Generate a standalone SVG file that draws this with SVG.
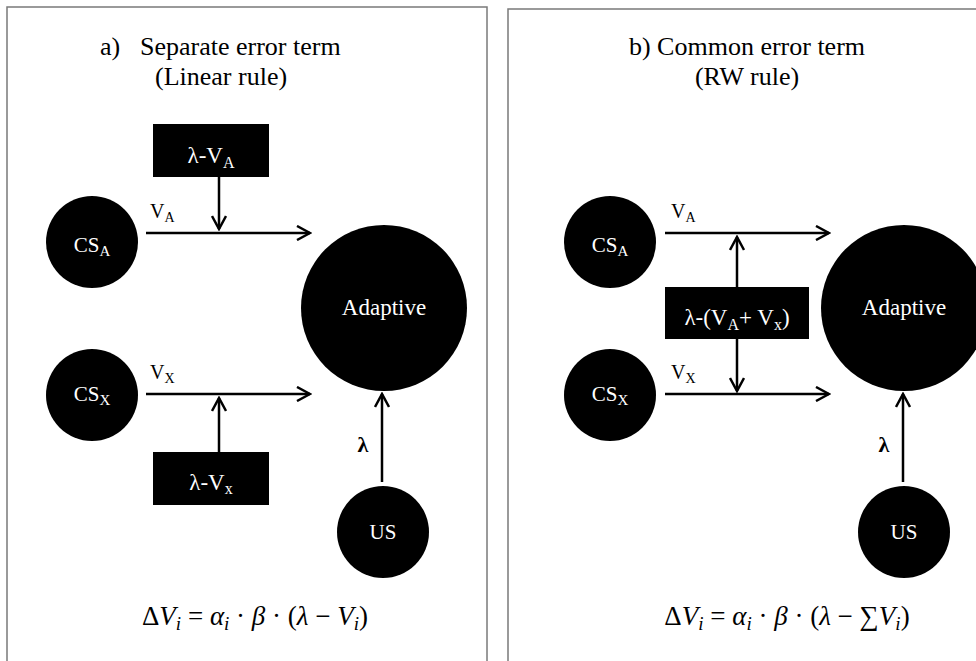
<svg xmlns="http://www.w3.org/2000/svg" width="976" height="661" viewBox="0 0 976 661">
<style>
.title{font-family:"Liberation Serif","Times New Roman",serif;font-size:26px;fill:#000}
.node{fill:#000}
.lbl{font-family:"Liberation Serif","Times New Roman",serif;fill:#fff;text-anchor:middle}
.el{font-family:"Liberation Serif","Times New Roman",serif;font-size:20px;fill:#000}
.lam{font-family:"Liberation Serif","Times New Roman",serif;font-size:22px;font-weight:bold;fill:#000}
.eq{font-family:"Liberation Serif","Times New Roman",serif;font-size:27px;fill:#000;text-anchor:middle}
.it{font-style:italic}
.conn line{stroke:#000;stroke-width:2.5;marker-end:url(#arr)}
.panel{fill:#fff;stroke:#7a7a7a;stroke-width:1.5}
</style>
<defs>
<marker id="arr" viewBox="0 0 16 16" refX="14" refY="8" markerWidth="16" markerHeight="16" markerUnits="userSpaceOnUse" orient="auto">
<path d="M1,1 L14,8 L1,15" fill="none" stroke="#000" stroke-width="2.5"/>
</marker>
</defs>
<rect width="976" height="661" fill="#fff"/>
<rect class="panel" x="7" y="7" width="480" height="670"/>
<rect class="panel" x="508" y="9" width="490" height="670"/>

<g id="title-a">
<text class="title" x="100" y="55">a)</text>
<text class="title" x="140" y="55">Separate error term</text>
<text class="title" x="155" y="85">(Linear rule)</text>
</g>
<g id="title-b">
<text class="title" x="747" y="55" text-anchor="middle">b) Common error term</text>
<text class="title" x="747" y="85" text-anchor="middle">(RW rule)</text>
</g>

<g class="conn" id="connectors">
<line x1="146" y1="233" x2="310" y2="233"/>
<line x1="146" y1="394" x2="310" y2="394"/>
<line x1="219" y1="177" x2="219" y2="229"/>
<line x1="219" y1="452" x2="219" y2="398"/>
<line x1="382" y1="482" x2="382" y2="394"/>
<line x1="665" y1="233" x2="829" y2="233"/>
<line x1="665" y1="394" x2="829" y2="394"/>
<line x1="737" y1="287" x2="737" y2="237"/>
<line x1="737" y1="339" x2="737" y2="391"/>
<line x1="903" y1="482" x2="903" y2="394"/>
</g>

<g id="edge-labels">
<text class="el" x="150" y="218">V<tspan font-size="14" dy="4">A</tspan></text>
<text class="el" x="150" y="379">V<tspan font-size="14" dy="4">X</tspan></text>
<text class="lam" x="363" y="452" text-anchor="middle">λ</text>
<text class="el" x="671" y="218">V<tspan font-size="14" dy="4">A</tspan></text>
<text class="el" x="671" y="379">V<tspan font-size="14" dy="4">X</tspan></text>
<text class="lam" x="884" y="452" text-anchor="middle">λ</text>
</g>

<g id="a-csa"><circle class="node" cx="92" cy="242" r="46"/><text class="lbl" x="92" y="252" font-size="21">CS<tspan font-size="15" dy="4">A</tspan></text></g>
<g id="a-csx"><circle class="node" cx="92" cy="395" r="46"/><text class="lbl" x="92" y="401" font-size="21">CS<tspan font-size="15" dy="4">X</tspan></text></g>
<g id="a-adaptive"><circle class="node" cx="384" cy="308" r="83"/><text class="lbl" x="384" y="315" font-size="23">Adaptive</text></g>
<g id="a-us"><circle class="node" cx="383" cy="532" r="46"/><text class="lbl" x="383" y="539" font-size="21">US</text></g>
<g id="a-err-a"><rect class="node" x="153" y="124" width="116" height="53"/><text class="lbl" x="211" y="163" font-size="23">λ-V<tspan font-size="16" dy="5">A</tspan></text></g>
<g id="a-err-x"><rect class="node" x="153" y="452" width="116" height="53"/><text class="lbl" x="211" y="490" font-size="23">λ-V<tspan font-size="16" dy="4">x</tspan></text></g>

<g id="b-csa"><circle class="node" cx="610" cy="242" r="46"/><text class="lbl" x="610" y="252" font-size="21">CS<tspan font-size="15" dy="4">A</tspan></text></g>
<g id="b-csx"><circle class="node" cx="610" cy="395" r="46"/><text class="lbl" x="610" y="401" font-size="21">CS<tspan font-size="15" dy="4">X</tspan></text></g>
<g id="b-adaptive"><circle class="node" cx="904" cy="308" r="83"/><text class="lbl" x="904" y="315" font-size="23">Adaptive</text></g>
<g id="b-us"><circle class="node" cx="904" cy="532" r="46"/><text class="lbl" x="904" y="539" font-size="21">US</text></g>
<g id="b-err"><rect class="node" x="665" y="287" width="144" height="52"/><text class="lbl" x="737" y="325" font-size="23">λ-(V<tspan font-size="16" dy="5">A</tspan><tspan dy="-5">+ V</tspan><tspan font-size="16" dy="5">x</tspan><tspan dy="-5">)</tspan></text></g>

<g id="eq-a"><text class="eq" x="255" y="625">Δ<tspan class="it">V</tspan><tspan class="it" font-size="19" dy="5">i</tspan><tspan dy="-5"> = </tspan><tspan class="it">α</tspan><tspan class="it" font-size="19" dy="5">i</tspan><tspan dy="-5"> · </tspan><tspan class="it">β</tspan> · (<tspan class="it">λ</tspan> − <tspan class="it">V</tspan><tspan class="it" font-size="19" dy="5">i</tspan><tspan dy="-5">)</tspan></text></g>
<g id="eq-b"><text class="eq" x="787" y="625">Δ<tspan class="it">V</tspan><tspan class="it" font-size="19" dy="5">i</tspan><tspan dy="-5"> = </tspan><tspan class="it">α</tspan><tspan class="it" font-size="19" dy="5">i</tspan><tspan dy="-5"> · </tspan><tspan class="it">β</tspan> · (<tspan class="it">λ</tspan> − ∑<tspan class="it">V</tspan><tspan class="it" font-size="19" dy="5">i</tspan><tspan dy="-5">)</tspan></text></g>
</svg>
